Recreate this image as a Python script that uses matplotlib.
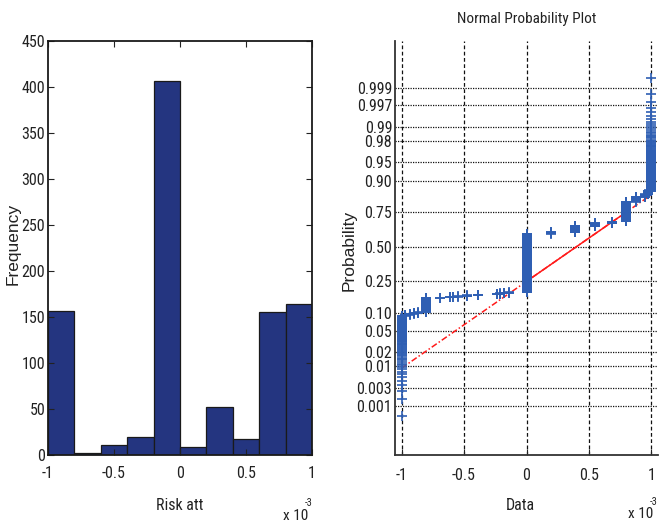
import numpy as np
import matplotlib
matplotlib.use("Agg")
import matplotlib.pyplot as plt
from matplotlib import font_manager
from statistics import NormalDist

# risk attribute, x axis in units of 1e-3
bin_edges = [-1.0, -0.8, -0.6, -0.4, -0.2, 0.0, 0.2, 0.4, 0.6, 0.8, 1.0]
bin_counts = [157, 2, 11, 20, 406, 9, 52, 17, 155, 164]

# distinct sample values and how often each one occurs
risk_values = [-1.0, -0.97, -0.93, -0.90, -0.87, -0.805, -0.69, -0.61, -0.585, -0.55,
               -0.475, -0.387, -0.24, -0.21, -0.18, -0.14, 0.0, 0.195, 0.387, 0.55,
               0.687, 0.80, 0.88, 0.95, 0.97, 1.0]
risk_counts = [89, 3, 3, 3, 3, 58, 2, 2, 2, 2,
               4, 4, 3, 3, 3, 3, 410, 10, 45, 20,
               12, 120, 25, 12, 15, 138]

x_ticks = [-1, -0.5, 0, 0.5, 1]
x_labels = ['-1', '-0.5', '0', '0.5', '1']
freq_ticks = [0, 50, 100, 150, 200, 250, 300, 350, 400, 450]
prob_ticks = [0.001, 0.003, 0.01, 0.02, 0.05, 0.10, 0.25, 0.50,
              0.75, 0.90, 0.95, 0.98, 0.99, 0.997, 0.999]
prob_labels = ['0.001', '0.003', '0.01', '0.02', '0.05', '0.10', '0.25', '0.50',
               '0.75', '0.90', '0.95', '0.98', '0.99', '0.997', '0.999']


def pick_narrow():
    # prefer a condensed sans for the numbers, like the old plotting defaults
    fonts = font_manager.fontManager.ttflist
    for name in ['Liberation Sans Narrow', 'Roboto Condensed', 'Open Sans Condensed',
                 'Noto Sans Condensed', 'Arial Narrow']:
        if any(f.name == name for f in fonts):
            return {'family': [name, 'DejaVu Sans'], 'stretch': 'normal'}
    for f in fonts:
        if f.stretch in ('condensed', 'semi-condensed', 'extra-condensed') or \
                'Condensed' in f.name or 'Narrow' in f.name:
            return {'family': [f.name, 'DejaVu Sans'], 'stretch': f.stretch}
    return {'family': ['Liberation Sans', 'DejaVu Sans'], 'stretch': 'normal'}


narrow = pick_narrow()
WIDE = ['Liberation Sans', 'DejaVu Sans']
plt.rcParams['font.family'] = narrow['family']
plt.rcParams['font.stretch'] = narrow['stretch']
TXT = '#222222'

nd = NormalDist()

fig = plt.figure(figsize=(6.59, 5.25), dpi=100)

# ---- histogram ----
ax1 = fig.add_axes([48/659, 70/525, 264/659, 414/525])
ax1.bar(bin_edges[:-1], bin_counts, width=np.diff(bin_edges), align='edge',
        color='#243580', edgecolor='#1a1a1a', linewidth=0.9)
ax1.set_xlim(-1, 1)
ax1.set_ylim(0, 450)
ax1.set_xticks(x_ticks)
ax1.set_xticklabels(x_labels)
ax1.set_yticks(freq_ticks)
ax1.tick_params(direction='in', top=True, right=True, length=4, width=0.8,
                labelsize=11.5, colors=TXT)
ax1.tick_params(axis='x', pad=8)
ax1.tick_params(axis='y', pad=2)
for s in ax1.spines.values():
    s.set_linewidth(1.3)
    s.set_color('#1a1a1a')
fig.text(180/659, 1 - 505/525, 'Risk att', ha='center', va='center', fontsize=11.5, color=TXT)
fig.text(13/659, 1 - 244/525, 'Frequency', ha='center', va='center', rotation=90,
         fontsize=12.5, family=WIDE, stretch='normal', color=TXT)
fig.text(283/659, 1 - 516/525, 'x 10', ha='left', va='center', fontsize=11, color=TXT)
fig.text(305/659, 1 - 503/525, '-3', ha='left', va='center', fontsize=7.5, color=TXT)

# ---- normal probability plot ----
data = np.repeat(risk_values, risk_counts)
n = len(data)
pp = (np.arange(1, n + 1) - 0.5) / n
zz = np.array([nd.inv_cdf(p) for p in pp])

ax2 = fig.add_axes([395/659, 70/525, 263/659, 414/525])
q1, q3 = np.percentile(data, [25, 75])
z1, z3 = nd.inv_cdf(0.25), nd.inv_cdf(0.75)
slope = (z3 - z1) / (q3 - q1)
xe = np.array([data.min(), data.max()])
ax2.plot(xe, z1 + slope * (xe - q1), color='#ff1a1a', lw=1.1, ls=(0, (4, 1.5, 1, 1.5)), zorder=3)
xs = np.array([q1, q3])
ax2.plot(xs, z1 + slope * (xs - q1), color='#ff1a1a', lw=1.1, ls='-', zorder=3)
ax2.plot(data, zz, ls='none', marker='+', ms=7.5, mew=1.2, color='#2f5fb3', zorder=4)

ax2.set_xlim(-1.053, 1.053)
ax2.set_ylim(-4.05, 4.0)
ax2.set_xticks(x_ticks)
ax2.set_xticklabels(x_labels)
ax2.set_yticks([nd.inv_cdf(p) for p in prob_ticks])
ax2.set_yticklabels(prob_labels)
ax2.tick_params(direction='in', length=4, width=0.8, labelsize=11.5, colors=TXT)
ax2.tick_params(axis='x', pad=9)
ax2.tick_params(axis='y', pad=2, length=0)
ax2.xaxis.grid(True, color='#111111', lw=0.9, ls=(0, (3, 2)))
ax2.yaxis.grid(True, color='#111111', lw=0.9, ls=(0, (1, 1)))
ax2.spines['top'].set_visible(False)
ax2.spines['right'].set_visible(False)
for side in ['left', 'bottom']:
    ax2.spines[side].set_linewidth(1.3)
    ax2.spines[side].set_color('#333333')
ax2.set_title('Normal Probability Plot', fontsize=11, color=TXT, pad=13)
fig.text(520/659, 1 - 505/525, 'Data', ha='center', va='center', fontsize=11.5, color=TXT)
fig.text(349/659, 1 - 250/525, 'Probability', ha='center', va='center', rotation=90,
         fontsize=12.5, family=WIDE, stretch='normal', color=TXT)
fig.text(628/659, 1 - 514/525, 'x 10', ha='left', va='center', fontsize=11, color=TXT)
fig.text(650/659, 1 - 502/525, '-3', ha='left', va='center', fontsize=7.5, color=TXT)

fig.savefig('out.png', dpi=100)
